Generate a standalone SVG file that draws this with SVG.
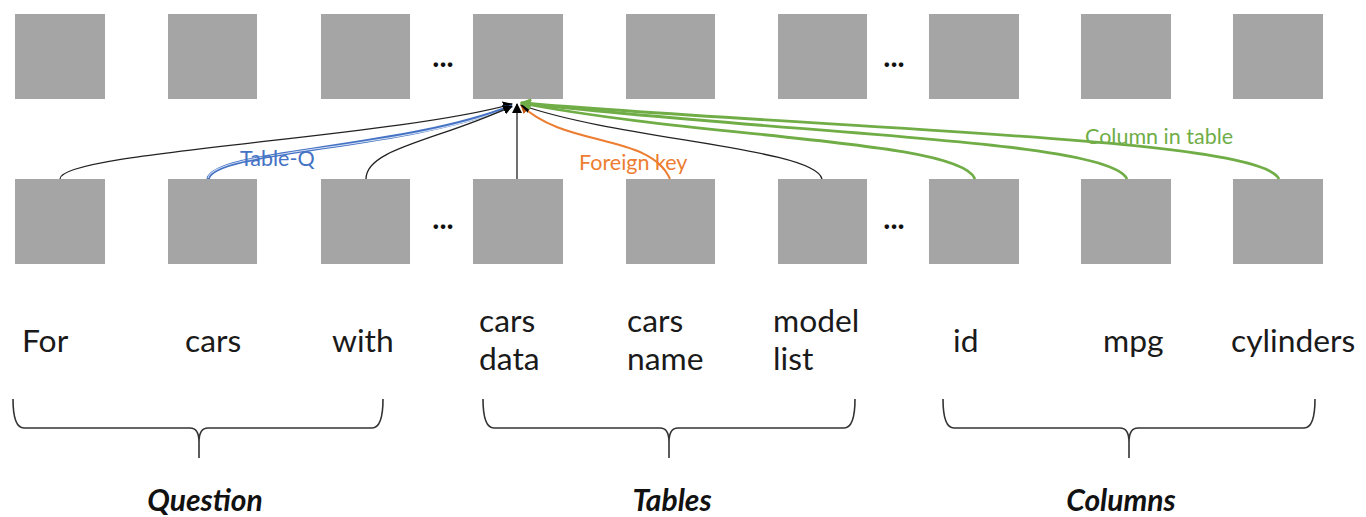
<svg xmlns="http://www.w3.org/2000/svg" width="1366" height="517" viewBox="0 0 1366 517">
<style>
.box{fill:#a5a5a5}
.dots{font-family:Lato,"Liberation Sans",sans-serif;font-size:30px;font-weight:bold;fill:#111;text-anchor:middle}
.word{font-family:Lato,"Liberation Sans",sans-serif;font-size:31.8px;fill:#1a1a1a}
.group{font-family:Lato,"Liberation Sans",sans-serif;font-size:30px;font-weight:bold;font-style:italic;fill:#111;text-anchor:middle}
.elab{font-family:Lato,"Liberation Sans",sans-serif;font-size:21.5px}
.k{fill:none;stroke:#222;stroke-width:1.3}
.b{fill:none;stroke:#4472c4;stroke-width:3.4}
.bi{fill:none;stroke:#d6e0f3;stroke-width:1.1}
.o{fill:none;stroke:#ed7d31;stroke-width:2}
.g{fill:none;stroke:#70ad47;stroke-width:2.8}
.brace{fill:none;stroke:#333;stroke-width:1.6}
</style>
<defs>
<marker id="ak" viewBox="0 0 10 10" refX="9" refY="5" markerWidth="10" markerHeight="10" markerUnits="userSpaceOnUse" orient="auto"><path d="M0,0 L10,5 L0,10 z" fill="#000"/></marker>
<marker id="ab" viewBox="0 0 10 10" refX="9" refY="5" markerWidth="9" markerHeight="9" markerUnits="userSpaceOnUse" orient="auto"><path d="M0,0 L10,5 L0,10 z" fill="#2f528f"/></marker>
<marker id="ao" viewBox="0 0 10 10" refX="9" refY="5" markerWidth="9" markerHeight="9" markerUnits="userSpaceOnUse" orient="auto"><path d="M0,0 L10,5 L0,10 z" fill="#c55a11"/></marker>
<marker id="ag" viewBox="0 0 10 10" refX="9" refY="5" markerWidth="11" markerHeight="11" markerUnits="userSpaceOnUse" orient="auto"><path d="M0,0 L10,5 L0,10 z" fill="#70ad47"/></marker>
</defs>
<rect width="1366" height="517" fill="#fff"/>

<g id="top-row">
<rect class="box" x="15" y="14" width="90" height="85"/>
<rect class="box" x="168" y="14" width="89" height="85"/>
<rect class="box" x="321" y="14" width="89" height="85"/>
<rect class="box" x="473" y="14" width="90" height="85"/>
<rect class="box" x="626" y="14" width="89" height="85"/>
<rect class="box" x="778" y="14" width="89" height="85"/>
<rect class="box" x="929" y="14" width="90" height="85"/>
<rect class="box" x="1081" y="14" width="90" height="85"/>
<rect class="box" x="1233" y="14" width="90" height="85"/>
<text class="dots" x="443" y="67">...</text>
<text class="dots" x="894" y="67">...</text>
</g>

<g id="node-for"><rect class="box" x="15" y="179" width="90" height="85"/><text class="word" x="22" y="352">For</text></g>
<g id="node-cars-q"><rect class="box" x="168" y="179" width="89" height="85"/><text class="word" x="185" y="352">cars</text></g>
<g id="node-with"><rect class="box" x="321" y="179" width="89" height="85"/><text class="word" x="332" y="352">with</text></g>
<g id="dots-bottom-1"><text class="dots" x="443" y="229">...</text></g>
<g id="node-cars-data"><rect class="box" x="473" y="179" width="90" height="85"/><text class="word" x="479" y="332">cars</text><text class="word" x="479" y="370">data</text></g>
<g id="node-cars-name"><rect class="box" x="626" y="179" width="89" height="85"/><text class="word" x="627" y="332">cars</text><text class="word" x="627" y="370">name</text></g>
<g id="node-model-list"><rect class="box" x="778" y="179" width="89" height="85"/><text class="word" x="773" y="332">model</text><text class="word" x="773" y="370">list</text></g>
<g id="dots-bottom-2"><text class="dots" x="894" y="229">...</text></g>
<g id="node-id"><rect class="box" x="929" y="179" width="90" height="85"/><text class="word" x="953" y="352">id</text></g>
<g id="node-mpg"><rect class="box" x="1081" y="179" width="90" height="85"/><text class="word" x="1103" y="352">mpg</text></g>
<g id="node-cylinders"><rect class="box" x="1233" y="179" width="90" height="85"/><text class="word" x="1231" y="352">cylinders</text></g>

<g id="connectors">
<path class="k" d="M60,179 C60,152 390,138 512,104" marker-end="url(#ak)"/>
<path class="b" d="M208,179 C214,150 400,150 512,106" marker-end="url(#ab)"/>
<path class="bi" d="M208,178 C214,150 400,150 506,109"/>
<path class="k" d="M366,179 C366,148 440,140 512,106" marker-end="url(#ak)"/>
<path class="k" d="M517,179 L517,104" marker-end="url(#ak)"/>
<path class="o" d="M670,179 C650,133 565,148 521,105" marker-end="url(#ao)"/>
<path class="k" d="M822,179 C815,148 620,140 521,105" marker-end="url(#ak)"/>
<path class="g" d="M975,179 C960,140 700,138 521,103" marker-end="url(#ag)"/>
<path class="g" d="M1127,179 C1110,140 800,135 521,103" marker-end="url(#ag)"/>
<path class="g" d="M1279,179 C1260,138 850,130 521,103" marker-end="url(#ag)"/>
<text class="elab" x="240" y="166" fill="#4472c4">Table-Q</text>
<text class="elab" x="579" y="170" fill="#ed7d31">Foreign key</text>
<text class="elab" x="1085" y="144" fill="#70ad47">Column in table</text>
</g>

<g id="group-question">
<path class="brace" d="M13,399 Q13,428 24,428 L190,428 Q199,428 199,442 L199,458 M199,442 Q199,428 208,428 L372,428 Q383,428 383,399"/>
<text class="group" x="205" y="511">Question</text>
</g>
<g id="group-tables">
<path class="brace" d="M483,399 Q483,428 494,428 L660,428 Q669,428 669,442 L669,458 M669,442 Q669,428 678,428 L844,428 Q855,428 855,399"/>
<text class="group" x="672" y="511">Tables</text>
</g>
<g id="group-columns">
<path class="brace" d="M943,399 Q943,428 954,428 L1120,428 Q1129,428 1129,442 L1129,458 M1129,442 Q1129,428 1138,428 L1304,428 Q1315,428 1315,399"/>
<text class="group" x="1121" y="511">Columns</text>
</g>
</svg>
